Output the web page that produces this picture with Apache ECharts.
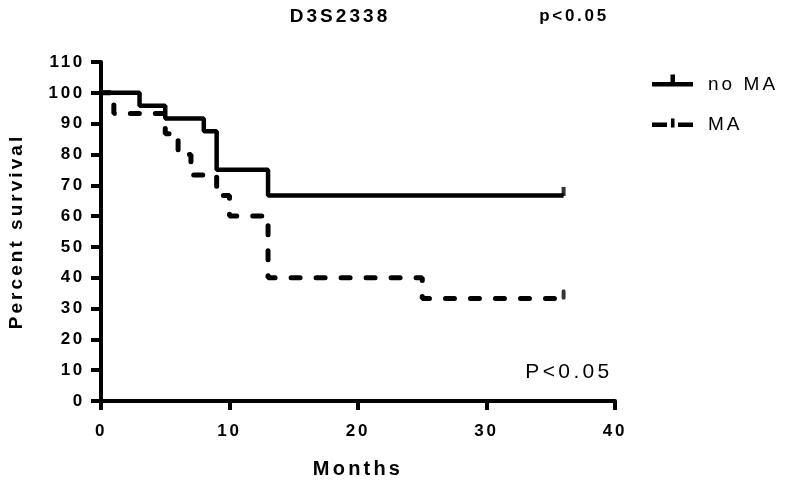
<!DOCTYPE html>
<html><head><meta charset="utf-8">
<script src="https://cdn.jsdelivr.net/npm/echarts@6/dist/echarts.min.js"></script>
<style>
html,body{margin:0;padding:0;background:#fff;}
#c{width:789px;height:484px;}
</style></head><body><div id="c"></div>
<script>
// Tick labels
const xTicks = [0, 10, 20, 30, 40];
const yTicks = [0, 10, 20, 30, 40, 50, 60, 70, 80, 90, 100, 110];
// Kaplan-Meier steps: no MA
const noMAMonths = [0, 3, 5, 8, 9, 13, 36];
const noMASurvival = [100, 95.8, 91.7, 87.5, 75, 66.7, 66.7];
// Kaplan-Meier steps: MA
const maMonths = [0, 1, 5, 6, 7, 9, 10, 13, 25, 36];
const maSurvival = [100, 93.3, 86.7, 80, 73.3, 66.7, 60, 40, 33.3, 33.3];
// Censored observations
const noMACensorMonths = [36];
const noMACensorSurvival = [66.7];
const maCensorMonths = [36];
const maCensorSurvival = [33.3];
const seriesNames = ['no MA', 'MA'];

// Wide letter spacing (Prism style) applied through the canvas context.
(function () {
  const proto = CanvasRenderingContext2D.prototype;
  if (!('letterSpacing' in proto)) return;
  const fill = proto.fillText, measure = proto.measureText;
  const spacing = function (font) {
    const m = /([\d.]+)px/.exec(font || '');
    const s = m ? parseFloat(m[1]) : 12;
    return (s * 0.16).toFixed(2) + 'px';
  };
  proto.fillText = function () { this.letterSpacing = spacing(this.font); return fill.apply(this, arguments); };
  proto.measureText = function () { this.letterSpacing = spacing(this.font); return measure.apply(this, arguments); };
})();

const FONT = 'Liberation Sans, Arial, sans-serif';
const zip = (a, b) => a.map((v, i) => [v, b[i]]);

const chart = echarts.init(document.getElementById('c'), null, {renderer: 'canvas'});
// legend icons: bar centred vertically, censor tick above (M0,23 pads the box)
const solidIcon = 'path://M0,9.5 H41 V14 H0 Z M18.5,2 H23 V9.5 H18.5 Z M0,23';
const dashIcon = 'path://M0,9.5 H15 V14 H0 Z M19,5.5 H22.5 V14.5 H19 Z M26,9.5 H41 V14 H26 Z M0,0 M0,23';

chart.setOption({
  animation: false,
  backgroundColor: '#fff',
  grid: {left: 101, right: 174, top: 62, bottom: 83, containLabel: false, outerBoundsMode: 'none'},
  xAxis: {
    type: 'value', min: xTicks[0], max: xTicks[xTicks.length - 1], interval: 10,
    name: 'Months', nameLocation: 'middle', nameGap: 57,
    nameTextStyle: {fontFamily: FONT, fontWeight: 'bold', fontSize: 20, color: '#000'},
    axisLine: {lineStyle: {color: '#000', width: 4}},
    axisTick: {length: 9, lineStyle: {color: '#000', width: 4}},
    axisLabel: {fontFamily: FONT, fontWeight: 'bold', fontSize: 17, color: '#000', margin: 20},
    splitLine: {show: false}
  },
  yAxis: {
    type: 'value', min: yTicks[0], max: yTicks[yTicks.length - 1], interval: 10,
    name: 'Percent survival', nameLocation: 'middle', nameGap: 73,
    nameTextStyle: {fontFamily: FONT, fontWeight: 'bold', fontSize: 19, color: '#000'},
    axisLine: {lineStyle: {color: '#000', width: 4}},
    axisTick: {length: 10, lineStyle: {color: '#000', width: 4}},
    axisLabel: {fontFamily: FONT, fontWeight: 'bold', fontSize: 17, color: '#000', margin: 16},
    splitLine: {show: false}
  },
  legend: {
    orient: 'vertical', left: 647, top: 69, itemGap: 17, itemWidth: 41, itemHeight: 23,
    textStyle: {fontFamily: FONT, fontSize: 19, color: '#000', padding: [2, 0, 0, 10]},
    data: [
      {name: seriesNames[0], icon: solidIcon},
      {name: seriesNames[1], icon: dashIcon}
    ]
  },
  series: [
    {
      name: seriesNames[1], type: 'line', step: 'end', symbol: 'none', z: 2,
      data: zip(maMonths, maSurvival), color: '#000',
      lineStyle: {color: '#000', width: 5, type: [9, 16], cap: 'round'}
    },
    {
      name: seriesNames[0], type: 'line', step: 'end', symbol: 'none', z: 3,
      data: zip(noMAMonths, noMASurvival), color: '#000',
      lineStyle: {color: '#000', width: 4.5, cap: 'butt'}
    },
    {
      name: seriesNames[0], type: 'scatter', symbol: 'rect', symbolSize: [4, 9], symbolOffset: [0, -4],
      data: zip(noMACensorMonths, noMACensorSurvival), itemStyle: {color: '#000'}, z: 3
    },
    {
      name: seriesNames[1], type: 'scatter', symbol: 'roundRect', symbolSize: [4, 10], symbolOffset: [0, -4],
      data: zip(maCensorMonths, maCensorSurvival), itemStyle: {color: '#000'}, z: 3
    }
  ],
  graphic: [
    {type: 'text', x: 340, y: 17, style: {text: 'D3S2338', font: 'bold 19px ' + FONT, fill: '#000', textAlign: 'center', textVerticalAlign: 'middle'}},
    {type: 'text', x: 574, y: 16, style: {text: 'p<0.05', font: 'bold 17px ' + FONT, fill: '#000', textAlign: 'center', textVerticalAlign: 'middle'}},
    {type: 'text', x: 569, y: 372, style: {text: 'P<0.05', font: '21px ' + FONT, fill: '#000', textAlign: 'center', textVerticalAlign: 'middle'}}
  ]
});
</script></body></html>
